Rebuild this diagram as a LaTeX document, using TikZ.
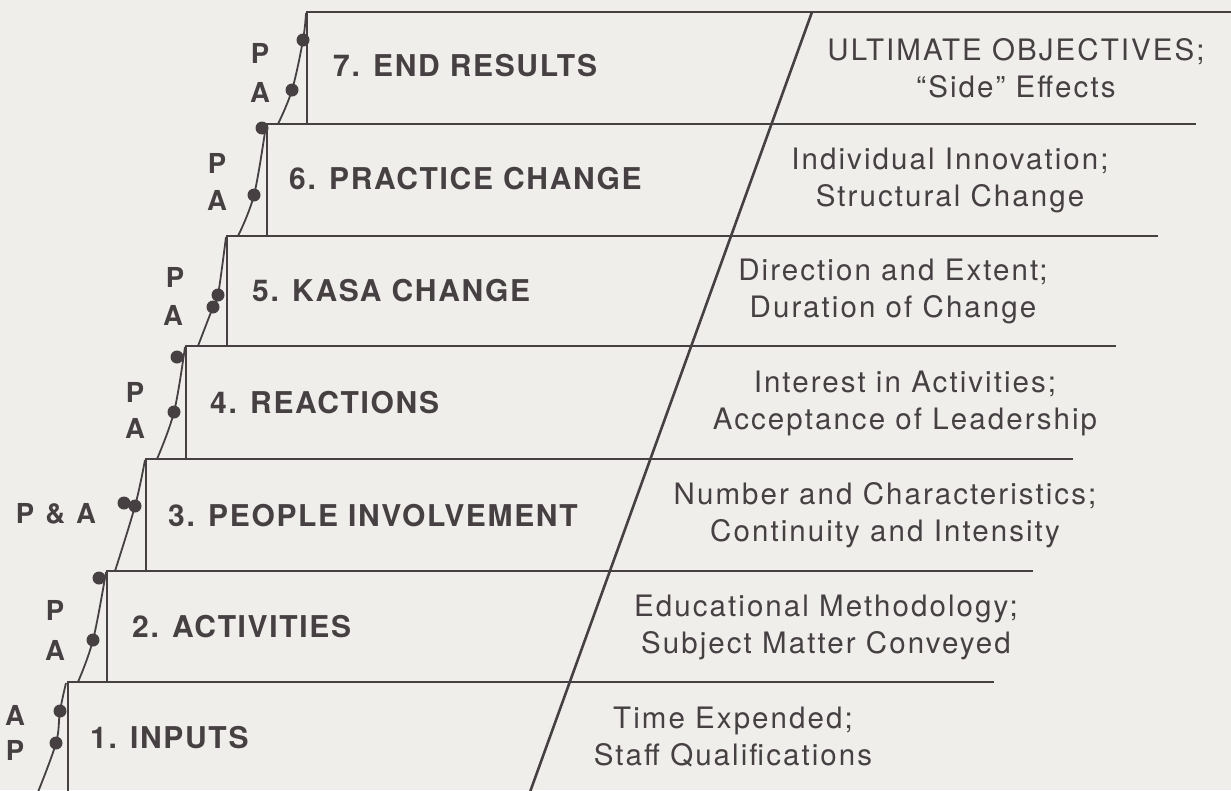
\documentclass[tikz,border=0pt]{standalone}
\usepackage{fontspec}
\setmainfont{TeX Gyre Heros}
\newfontfamily\stepfont[LetterSpace=5.5]{TeX Gyre Heros}
\newfontfamily\descfont[LetterSpace=7]{TeX Gyre Heros}
\definecolor{paper}{RGB}{239,238,235}
\definecolor{ink}{RGB}{70,64,67}
\begin{document}
\begin{tikzpicture}[x=1pt,y=-1pt,
  stepline/.style={draw=ink,line width=2.9pt,line cap=rect},
  diag/.style={draw=ink,line width=2.6pt},
  curve/.style={draw=ink,line width=1.8pt},
  pdot/.style={circle,fill=ink,inner sep=0pt,minimum size=13pt},
  steplabel/.style={anchor=west,inner sep=0pt,text=ink,font=\stepfont\bfseries\fontsize{30}{36}\selectfont},
  desc/.style={align=center,inner sep=0pt,text=ink,font=\descfont\fontsize{29.5}{37}\selectfont},
  palabel/.style={inner sep=0pt,text=ink,font=\stepfont\bfseries\fontsize{27.5}{30}\selectfont}]
\fill[paper] (0,0) rectangle (1231,790);
\useasboundingbox (0,0) rectangle (1231,790);

% the seven steps: riser on the left, tread running right
\draw[stepline] (68,790) -- (68,682) -- (993,682);
\draw[stepline] (107,682) -- (107,571) -- (1032,571);
\draw[stepline] (146,571) -- (146,459) -- (1072,459);
\draw[stepline] (186,459) -- (186,346) -- (1115,346);
\draw[stepline] (227,346) -- (227,236) -- (1157,236);
\draw[stepline] (267,236) -- (267,124) -- (1195,124);
\draw[stepline] (307,124) -- (307,12) -- (1240,12);

% dividing slash between levels and criteria
\coordinate (slashtop) at (812,12);
\coordinate (slashbot) at (530,792);
\draw[diag] (slashbot) -- (slashtop);

% level names
\node[steplabel] (s7) at (333,66) {7. END RESULTS};
\node[steplabel] (s6) at (289,179) {6. PRACTICE CHANGE};
\node[steplabel] (s5) at (252,291) {5. KASA CHANGE};
\node[steplabel] (s4) at (210,403) {4. REACTIONS};
\node[steplabel] (s3) at (168,516) {3. PEOPLE INVOLVEMENT};
\node[steplabel] (s2) at (132,627) {2. ACTIVITIES};
\node[steplabel] (s1) at (90,738) {1. INPUTS};

% criteria for each level
\node[desc] (d7) at (1016,68) {ULTIMATE OBJECTIVES;\\“Side” Effects};
\node[desc] (d6) at (950,180) {Individual Innovation;\\Structural Change};
\node[desc] (d5) at (893,291) {Direction and Extent;\\Duration of Change};
\node[desc] (d4) at (905,403) {Interest in Activities;\\Acceptance of Leadership};
\node[desc] (d3) at (885,515) {Number and Characteristics;\\Continuity and Intensity};
\node[desc] (d2) at (826,627) {Educational Methodology;\\Subject Matter Conveyed};
\node[desc] (d1) at (733,737) {Time Expended;\\Staff Qualifications};

% P / A markers along each step
\coordinate (c1s) at (38,792);   \coordinate (c1e) at (66,683);
\node[pdot] (p1a) at (56,743) {};  \node[pdot] (p1b) at (60,711) {};
\draw[curve] plot[smooth,tension=0.6] coordinates {(c1s) (p1a) (p1b) (c1e)};
\node[palabel] (l1a) at (15,715) {A};
\node[palabel] (l1p) at (15,750) {P};

\coordinate (c2s) at (78,682);   \coordinate (c2e) at (106,572);
\node[pdot] (p2a) at (93,640) {};  \node[pdot] (p2b) at (99,578) {};
\draw[curve] plot[smooth,tension=0.6] coordinates {(c2s) (p2a) (c2e)};
\node[palabel] (l2p) at (55,610) {P};
\node[palabel] (l2a) at (55,650) {A};

\coordinate (c3s) at (115,571);  \coordinate (c3e) at (145,460);
\node[pdot] (p3b) at (135,506) {}; \node[pdot] (p3a) at (124,503) {};
\draw[curve] plot[smooth,tension=0.6] coordinates {(c3s) (p3b) (c3e)};
\node[palabel] (l3) at (56,514) {P\hspace{0.4em}\&\hspace{0.4em}A};

\coordinate (c4s) at (157,459);  \coordinate (c4e) at (185,347);
\node[pdot] (p4a) at (174,412) {}; \node[pdot] (p4b) at (177,357) {};
\draw[curve] plot[smooth,tension=0.6] coordinates {(c4s) (p4a) (c4e)};
\node[palabel] (l4p) at (135,392) {P};
\node[palabel] (l4a) at (135,428) {A};

\coordinate (c5s) at (198,346);  \coordinate (c5e) at (226,237);
\node[pdot] (p5a) at (213,307) {}; \node[pdot] (p5b) at (218,295) {};
\draw[curve] plot[smooth,tension=0.6] coordinates {(c5s) (p5a) (p5b) (c5e)};
\node[palabel] (l5p) at (175,277) {P};
\node[palabel] (l5a) at (173,315) {A};

\coordinate (c6s) at (238,236);  \coordinate (c6e) at (266,125);
\node[pdot] (p6a) at (254,195) {}; \node[pdot] (p6b) at (262,128) {};
\draw[curve] plot[smooth,tension=0.6] coordinates {(c6s) (p6a) (c6e)};
\node[palabel] (l6p) at (217,163) {P};
\node[palabel] (l6a) at (217,200) {A};

\coordinate (c7s) at (278,124);  \coordinate (c7e) at (306,13);
\node[pdot] (p7a) at (292,90) {};  \node[pdot] (p7b) at (303,40) {};
\draw[curve] plot[smooth,tension=0.6] coordinates {(c7s) (p7a) (p7b) (c7e)};
\node[palabel] (l7p) at (260,53) {P};
\node[palabel] (l7a) at (260,92) {A};
\end{tikzpicture}
\end{document}
